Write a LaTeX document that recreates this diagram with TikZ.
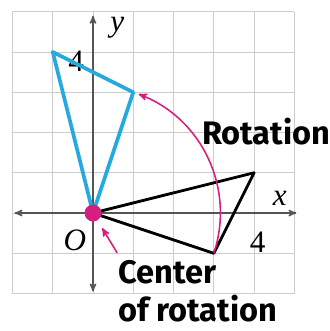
\documentclass[tikz,border=0pt]{standalone}
\usepackage{fontspec}
\setmainfont{Liberation Serif}
\newfontfamily\calloutfont{Fira Sans}
\usetikzlibrary{arrows}
\definecolor{imgblue}{RGB}{38,170,222}
\definecolor{rotpink}{RGB}{214,30,128}
\definecolor{gridgray}{RGB}{205,205,205}
\definecolor{axisgray}{RGB}{85,85,85}
\tikzstyle{axis}=[<->,>=stealth',draw=axisgray,line width=1pt]
\tikzstyle{callout}=[font=\calloutfont\bfseries\fontsize{23}{27}\selectfont,inner sep=0pt]
\tikzstyle{mathlbl}=[font=\fontsize{22}{24}\selectfont,inner sep=0pt]

\begin{document}
\begin{tikzpicture}
    \useasboundingbox (-2.31,-2.93) rectangle (5.88,5.29);
    \fill[white] (-2.31,-2.93) rectangle (5.88,5.29);
    \draw[gridgray,line width=0.6pt] (-2,-2) grid (5,5);
    \coordinate (xl) at (-1.95,0);
    \coordinate (xr) at (5.05,0);
    \coordinate (yb) at (0,-1.95);
    \coordinate (yt) at (0,4.9);
    \draw[axis] (xl) -- (xr);
    \draw[axis] (yb) -- (yt);
    % preimage and image
    \coordinate (O) at (0,0);
    \coordinate (A) at (4,1);
    \coordinate (B) at (3,-1);
    \coordinate (A1) at (-1,4);
    \coordinate (B1) at (1,3);
    % labels
    \node[mathlbl] (ylbl) at (0.6,4.59) {\itshape y};
    \node[mathlbl] (xlbl) at (4.64,0.37) {\itshape x};
    \node[mathlbl] (olbl) at (-0.45,-0.69) {\itshape O};
    \node[mathlbl] (xfour) at (4.09,-0.72) {4};
    \node[mathlbl] (yfour) at (-0.42,3.77) {4};
    \draw[black,line width=2pt,line join=round] (O) -- (A) -- (B) -- cycle;
    \draw[imgblue,line width=2.6pt,line join=round] (O) -- (A1) -- (B1) -- cycle;
    \draw[rotpink,line width=1.1pt,->,>=stealth'] (B) arc[start angle=-18.43,end angle=69,radius=3.1623];
    \node[circle,fill=rotpink,inner sep=0pt,minimum size=0.42cm] (dot) at (O) {};
    \node[callout,anchor=base west] (rot) at (2.7,1.69) {Rotation};
    \node[callout,anchor=base west] (ctr) at (0.62,-1.74) {Center};
    \node[callout,anchor=base west] (ofrot) at (0.62,-2.70) {of rotation};
    \coordinate (cs) at (0.6,-0.99);
    \draw[rotpink,line width=1.1pt,->,>=stealth',shorten >=0.22cm] (cs) -- (dot);
\end{tikzpicture}
\end{document}
